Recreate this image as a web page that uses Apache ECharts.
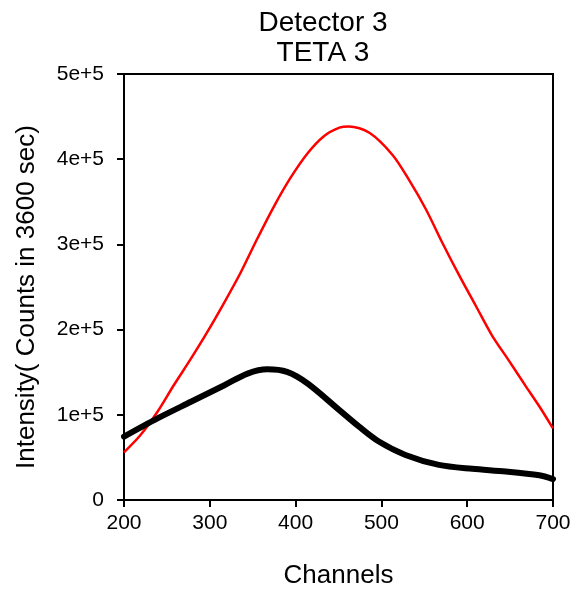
<!DOCTYPE html>
<html><head><meta charset="utf-8">
<script src="https://cdn.jsdelivr.net/npm/echarts@6/dist/echarts.min.js"></script>
<style>html,body{margin:0;padding:0;background:#fff}#c{width:580px;height:594px}</style>
</head><body><div id="c"></div>
<script>
const redX = [200, 219, 239, 258, 278, 297, 317, 336, 355, 375, 394, 414, 433, 451, 462, 486, 513, 532, 552, 571, 591, 610, 629, 649, 668, 684, 700];
const redY = [56000, 76000, 103600, 134700, 165900, 197000, 232000, 267000, 306000, 345000, 378000, 407000, 427000, 437000, 438500, 431000, 405000, 376000, 341000, 302000, 263000, 228000, 193000, 163000, 134000, 110000, 84000];
const blackX = [200, 239, 278, 317, 344, 367, 390, 414, 451, 474, 497, 528, 567, 606, 645, 684, 700];
const blackY = [74400, 95800, 115300, 134700, 148400, 153400, 150300, 136700, 105500, 86100, 68600, 52900, 41200, 36600, 33500, 29000, 24500];
const xTicks = [200, 300, 400, 500, 600, 700];
const yTicks = ['0', '1e+5', '2e+5', '3e+5', '4e+5', '5e+5'];
const titleLines = ['Detector 3', 'TETA 3'];
const xName = 'Channels';
const yName = 'Intensity( Counts in 3600 sec)';

const font = 'Liberation Sans, Arial, sans-serif';
const chart = echarts.init(document.getElementById('c'), null, {renderer: 'canvas'});
const zip = (xs, ys) => xs.map((x, i) => [x, ys[i]]);
chart.setOption({
  animation: false,
  backgroundColor: '#fff',
  title: {
    text: titleLines.join('\n'),
    left: 318, top: 3, textAlign: 'center',
    textStyle: {fontFamily: font, fontSize: 28, fontWeight: 'normal', color: '#000', lineHeight: 30}
  },
  graphic: [{
    type: 'text', x: 27, y: 297, rotation: Math.PI / 2,
    style: {text: yName, fontFamily: font, fontSize: 26, fill: '#000', align: 'center', verticalAlign: 'middle'}
  }],
  grid: {left: 124, right: 27, top: 74, bottom: 92, show: true, borderColor: '#000', borderWidth: 2, containLabel: false},
  xAxis: {
    type: 'value', min: xTicks[0], max: xTicks[xTicks.length - 1], interval: 100,
    name: xName, nameLocation: 'middle', nameGap: 63,
    nameTextStyle: {fontFamily: font, fontSize: 26, color: '#000'},
    axisLine: {show: true, onZero: false, lineStyle: {color: '#000', width: 2}},
    axisTick: {show: true, inside: false, length: 7, lineStyle: {color: '#000', width: 2}},
    axisLabel: {fontFamily: font, fontSize: 21, color: '#000', margin: 13},
    splitLine: {show: false}
  },
  yAxis: {
    type: 'value', min: 0, max: 500000, interval: 100000,
    axisLine: {show: true, lineStyle: {color: '#000', width: 2}},
    axisTick: {show: true, inside: false, length: 7, lineStyle: {color: '#000', width: 2}},
    axisLabel: {fontFamily: font, fontSize: 21, color: '#000', margin: 20,
      formatter: (v) => yTicks[Math.round(v / 100000)]},
    splitLine: {show: false}
  },
  series: [
    {type: 'line', data: zip(redX, redY), smooth: 0.3, showSymbol: false,
     lineStyle: {color: '#ff0000', width: 2.5}, z: 2},
    {type: 'line', data: zip(blackX, blackY), smooth: 0.3, showSymbol: false,
     lineStyle: {color: '#000', width: 6, cap: 'round'}, z: 3}
  ]
});
</script></body></html>
